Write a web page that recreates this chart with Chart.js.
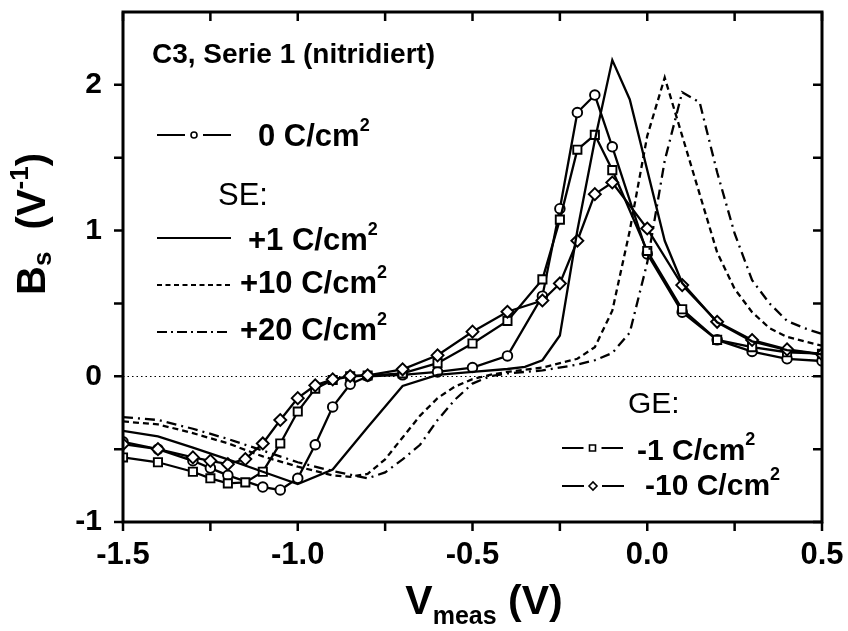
<!DOCTYPE html>
<html>
<head>
<meta charset="utf-8">
<script src="https://cdn.jsdelivr.net/npm/chart.js@4.4.1/dist/chart.umd.min.js"></script>
<style>
  html, body { margin: 0; padding: 0; background: #ffffff; }
  #wrap { width: 848px; height: 631px; }
</style>
</head>
<body>
<div id="wrap"><canvas id="c" width="848" height="631"></canvas></div>
<script>
// B_s vs V_meas, sample C3, Serie 1 (nitridiert)

// 0 C/cm^2 (open circles)
const vZero = [-1.5,-1.4,-1.3,-1.25,-1.2,-1.1,-1.05,-1.0,-0.95,-0.9,-0.85,-0.8,-0.7,-0.6,-0.5,-0.4,-0.3,-0.25,-0.2,-0.15,-0.1,0.0,0.1,0.2,0.3,0.4,0.5];
const bZero = [-0.45,-0.50,-0.58,-0.63,-0.68,-0.76,-0.78,-0.70,-0.47,-0.21,-0.055,0.0,0.01,0.03,0.06,0.14,0.55,1.15,1.81,1.93,1.575,0.84,0.44,0.25,0.17,0.12,0.105];

// SE +1 C/cm^2 (solid)
const vSE1 = [-1.5,-1.4,-1.3,-1.2,-1.1,-1.0,-0.9,-0.8,-0.7,-0.6,-0.5,-0.4,-0.35,-0.3,-0.25,-0.2,-0.15,-0.1,-0.05,0.05,0.1,0.2,0.3,0.4,0.5];
const bSE1 = [-0.375,-0.413,-0.49,-0.57,-0.655,-0.74,-0.64,-0.35,-0.066,0.01,0.03,0.05,0.065,0.11,0.28,1.0,1.62,2.17,1.90,0.93,0.64,0.37,0.24,0.18,0.15];

// SE +10 C/cm^2 (short dashes)
const vSE10 = [-1.5,-1.4,-1.3,-1.2,-1.1,-1.0,-0.9,-0.85,-0.8,-0.75,-0.7,-0.65,-0.6,-0.55,-0.5,-0.45,-0.4,-0.3,-0.2,-0.15,-0.1,-0.05,0.0,0.05,0.1,0.15,0.2,0.25,0.3,0.35,0.4,0.45,0.5];
const bSE10 = [-0.31,-0.33,-0.39,-0.46,-0.55,-0.62,-0.68,-0.69,-0.67,-0.57,-0.42,-0.27,-0.15,-0.07,-0.02,0.01,0.03,0.06,0.12,0.2,0.45,1.0,1.65,2.05,1.65,1.25,0.85,0.6,0.44,0.33,0.27,0.24,0.21];

// SE +20 C/cm^2 (dash-dot)
const vSE20 = [-1.5,-1.4,-1.3,-1.2,-1.1,-1.0,-0.9,-0.8,-0.75,-0.7,-0.65,-0.6,-0.55,-0.5,-0.45,-0.4,-0.3,-0.2,-0.15,-0.1,-0.05,0.0,0.05,0.1,0.15,0.2,0.25,0.3,0.35,0.4,0.45,0.5];
const bSE20 = [-0.28,-0.30,-0.36,-0.43,-0.51,-0.59,-0.65,-0.70,-0.66,-0.57,-0.47,-0.30,-0.16,-0.05,0.0,0.02,0.04,0.08,0.11,0.16,0.30,0.78,1.48,1.95,1.88,1.40,0.98,0.66,0.50,0.38,0.33,0.29];

// GE -1 C/cm^2 (open squares)
const vGE1 = [-1.5,-1.4,-1.3,-1.25,-1.2,-1.15,-1.1,-1.05,-1.0,-0.95,-0.9,-0.85,-0.8,-0.7,-0.6,-0.5,-0.4,-0.3,-0.25,-0.2,-0.15,-0.1,0.0,0.1,0.2,0.3,0.4,0.5];
const bGE1 = [-0.557,-0.59,-0.655,-0.70,-0.735,-0.728,-0.655,-0.461,-0.242,-0.085,-0.025,0.0,0.005,0.02,0.09,0.225,0.38,0.665,1.075,1.555,1.657,1.415,0.86,0.46,0.25,0.20,0.165,0.155];

// GE -10 C/cm^2 (open diamonds)
const vGE10 = [-1.5,-1.4,-1.3,-1.25,-1.2,-1.15,-1.1,-1.05,-1.0,-0.95,-0.9,-0.85,-0.8,-0.7,-0.6,-0.5,-0.4,-0.3,-0.25,-0.2,-0.15,-0.1,0.0,0.1,0.2,0.3,0.4,0.5];
const bGE10 = [-0.466,-0.50,-0.557,-0.58,-0.603,-0.568,-0.461,-0.30,-0.15,-0.062,-0.021,0.002,0.007,0.048,0.144,0.306,0.443,0.52,0.637,0.93,1.25,1.33,1.014,0.626,0.374,0.249,0.185,0.151];

// axis ticks
const xMajorTicks = [-1.5, -1.0, -0.5, 0.0, 0.5];
const xMinorTicks = [-1.25, -0.75, -0.25, 0.25];
const yMajorTicks = [-1, 0, 1, 2];
const yMinorTicks = [-0.5, 0.5, 1.5];

// legend / annotation texts
const panelTitle = 'C3, Serie 1 (nitridiert)';
const unitText = ' C/cm';
const labelZero = '0';
const labelSE = ['+1', '+10', '+20'];
const labelGE = ['-1', '-10'];

const FONT = '"Liberation Sans", Arial, Helvetica, sans-serif';

function pts(xs, ys) { return xs.map((v, i) => ({ x: v, y: ys[i] })); }

function richText(ctx, x, y, parts, align) {
  let total = 0;
  for (const p of parts) {
    ctx.font = `${p.w || 'bold'} ${p.s}px ${FONT}`;
    total += ctx.measureText(p.t).width;
  }
  let cx = align === 'center' ? x - total / 2 : x;
  for (const p of parts) {
    ctx.font = `${p.w || 'bold'} ${p.s}px ${FONT}`;
    ctx.fillText(p.t, cx, y + (p.dy || 0));
    cx += ctx.measureText(p.t).width;
  }
  return total;
}

function sampleLine(ctx, x0, x1, y, dash) {
  ctx.save();
  ctx.lineWidth = 2.2;
  ctx.setLineDash(dash || []);
  ctx.beginPath(); ctx.moveTo(x0, y); ctx.lineTo(x1, y); ctx.stroke();
  ctx.restore();
}

function sampleMarker(ctx, x0, x1, y, kind) {
  const mid = (x0 + x1) / 2;
  ctx.save();
  ctx.lineWidth = 2.2;
  ctx.beginPath();
  ctx.moveTo(x0, y); ctx.lineTo(mid - 9, y);
  ctx.moveTo(mid + 9, y); ctx.lineTo(x1, y);
  ctx.stroke();
  ctx.lineWidth = 1.6;
  ctx.beginPath();
  if (kind === 'circle') ctx.arc(mid, y, 3, 0, Math.PI * 2);
  else if (kind === 'rect') ctx.rect(mid - 3, y - 3, 6, 6);
  else { ctx.moveTo(mid - 4, y); ctx.lineTo(mid, y - 4); ctx.lineTo(mid + 4, y); ctx.lineTo(mid, y + 4); ctx.closePath(); }
  ctx.fillStyle = '#fff'; ctx.fill(); ctx.stroke();
  ctx.restore();
}

const zeroLine = {
  id: 'zeroLine',
  beforeDatasetsDraw(chart) {
    const { ctx, chartArea: a, scales: { y } } = chart;
    const py = Math.round(y.getPixelForValue(0)) + 0.5;
    ctx.save();
    ctx.strokeStyle = '#000'; ctx.lineWidth = 1.2; ctx.setLineDash([1.5, 3]);
    ctx.beginPath(); ctx.moveTo(a.left, py); ctx.lineTo(a.right, py); ctx.stroke();
    ctx.restore();
  }
};

const frameTicks = {
  id: 'frameTicks',
  afterDraw(chart) {
    const { ctx, chartArea: a, scales: { x, y } } = chart;
    ctx.save();
    ctx.strokeStyle = '#000';
    ctx.lineWidth = 3;
    ctx.strokeRect(a.left, a.top, a.right - a.left, a.bottom - a.top);
    ctx.lineWidth = 2.5;
    ctx.beginPath();
    for (const v of xMajorTicks.concat(xMinorTicks)) {
      const px = x.getPixelForValue(v);
      ctx.moveTo(px, a.bottom); ctx.lineTo(px, a.bottom + 9);
      ctx.moveTo(px, a.top); ctx.lineTo(px, a.top + 9);
    }
    for (const v of yMajorTicks.concat(yMinorTicks)) {
      const py = y.getPixelForValue(v);
      ctx.moveTo(a.left - 9, py); ctx.lineTo(a.left, py);
      ctx.moveTo(a.right, py); ctx.lineTo(a.right - 9, py);
    }
    ctx.stroke();

    // axis titles
    ctx.fillStyle = '#000';
    ctx.textBaseline = 'alphabetic';
    ctx.save();
    ctx.translate(45, 224);
    ctx.rotate(-Math.PI / 2);
    richText(ctx, 0, 0, [
      { t: 'B', s: 40 }, { t: 's', s: 26, dy: 6 }, { t: '  (V', s: 40 },
      { t: '-1', s: 26, dy: -17 }, { t: ')', s: 40 }
    ], 'center');
    ctx.restore();
    richText(ctx, 484, 614, [
      { t: 'V', s: 41 }, { t: 'meas', s: 25, dy: 10 }, { t: ' (V)', s: 41 }
    ], 'center');

    // panel title and legend
    richText(ctx, 152, 63, [{ t: panelTitle, s: 28 }]);
    const sup = () => ({ t: '2', s: 18, dy: -15 });
    sampleMarker(ctx, 157, 231, 135, 'circle');
    richText(ctx, 258, 146, [{ t: labelZero + unitText, s: 31 }, sup()]);
    richText(ctx, 218, 205, [{ t: 'SE:', s: 31, w: 'normal' }]);
    sampleLine(ctx, 157, 231, 238, []);
    richText(ctx, 248, 250, [{ t: labelSE[0] + unitText, s: 31 }, sup()]);
    sampleLine(ctx, 157, 231, 285, [5, 3.5]);
    richText(ctx, 240, 293, [{ t: labelSE[1] + unitText, s: 31 }, sup()]);
    sampleLine(ctx, 157, 231, 332, [10, 4, 2, 4]);
    richText(ctx, 240, 340, [{ t: labelSE[2] + unitText, s: 31 }, sup()]);
    richText(ctx, 628, 413, [{ t: 'GE:', s: 30, w: 'normal' }]);
    sampleMarker(ctx, 562, 623, 448, 'rect');
    richText(ctx, 637, 460, [{ t: labelGE[0] + unitText, s: 30 }, sup()]);
    sampleMarker(ctx, 562, 624, 486, 'diamond');
    richText(ctx, 645, 495, [{ t: labelGE[1] + unitText, s: 30 }, sup()]);
    ctx.restore();
  }
};

const markerDefaults = {
  borderColor: '#000', borderWidth: 2.3, pointBackgroundColor: '#fff',
  pointBorderColor: '#000', pointBorderWidth: 1.9, tension: 0, fill: false
};

function noOverhang(s) {
  s.paddingTop = 0; s.paddingBottom = 0; s.paddingLeft = 0; s.paddingRight = 0;
}

new Chart(document.getElementById('c'), {
  type: 'line',
  data: {
    datasets: [
      { label: 'SE +10 C/cm2', data: pts(vSE10, bSE10), borderColor: '#000', borderWidth: 2.3, borderDash: [6, 4], pointRadius: 0, tension: 0, fill: false },
      { label: 'SE +20 C/cm2', data: pts(vSE20, bSE20), borderColor: '#000', borderWidth: 2.3, borderDash: [10, 5, 2, 5], pointRadius: 0, tension: 0, fill: false },
      { label: 'SE +1 C/cm2', data: pts(vSE1, bSE1), borderColor: '#000', borderWidth: 2.3, pointRadius: 0, tension: 0, fill: false },
      Object.assign({ label: 'GE -10 C/cm2', data: pts(vGE10, bGE10), pointStyle: 'rectRot', pointRadius: 6 }, markerDefaults),
      Object.assign({ label: 'GE -1 C/cm2', data: pts(vGE1, bGE1), pointStyle: 'rect', pointRadius: 5.8 }, markerDefaults),
      Object.assign({ label: '0 C/cm2', data: pts(vZero, bZero), pointStyle: 'circle', pointRadius: 4.8 }, markerDefaults)
    ]
  },
  options: {
    responsive: false,
    animation: false,
    devicePixelRatio: 1,
    layout: { padding: { top: 12, right: 26, left: 0, bottom: 0 } },
    plugins: { legend: { display: false }, tooltip: { enabled: false }, title: { display: false } },
    scales: {
      x: {
        type: 'linear', min: -1.5, max: 0.5,
        grid: { display: false, drawTicks: false },
        border: { display: false },
        afterFit(s) { s.height = 109; noOverhang(s); },
        afterBuildTicks(s) { s.ticks = xMajorTicks.map(v => ({ value: v })); },
        ticks: {
          color: '#000', padding: 15, maxRotation: 0, autoSkip: false,
          font: { family: FONT, size: 31, weight: 'bold' },
          callback: (v) => Number(v).toFixed(1)
        }
      },
      y: {
        type: 'linear', min: -1, max: 2.5,
        grid: { display: false, drawTicks: false },
        border: { display: false },
        afterFit(s) { s.width = 123; noOverhang(s); },
        afterBuildTicks(s) { s.ticks = yMajorTicks.map(v => ({ value: v })); },
        ticks: {
          color: '#000', padding: 21, autoSkip: false,
          font: { family: FONT, size: 30, weight: 'bold' },
          callback: (v) => String(v)
        }
      }
    }
  },
  plugins: [zeroLine, frameTicks]
});
</script>
</body>
</html>
